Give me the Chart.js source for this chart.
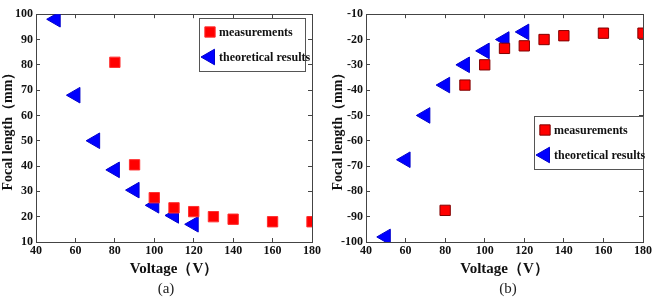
<!DOCTYPE html>
<html lang="en">
<head>
    <meta charset="UTF-8">
    <title>Focal length vs voltage</title>
    <script src="https://cdn.jsdelivr.net/npm/chart.js"></script>
    <style>
        body { margin: 0; background: #fff; }
        .wrap { position: relative; width: 658px; height: 298px; }
        .panel { position: absolute; top: 0; height: 298px; }
        .cap {
            position: absolute; top: 280px; width: 40px; text-align: center;
            font-family: 'Liberation Serif', 'Times New Roman', serif; font-size: 15px; color: #222;
        }
    </style>
</head>
<body>
<div class="wrap">
    <div class="panel" style="left:0;width:330px"><canvas id="chartA"></canvas></div>
    <div class="panel" style="left:330px;width:328px"><canvas id="chartB"></canvas></div>
    <div class="cap" style="left:146px">(a)</div>
    <div class="cap" style="left:488px">(b)</div>
</div>

<script>
    // data
    const measVoltA = [80, 90, 100, 110, 120, 130, 140, 160, 180];
    const measFocalA = [81, 40.5, 27.5, 23.5, 22, 20, 19, 18, 18];
    const theoVoltA = [50, 60, 70, 80, 90, 100, 110, 120];
    const theoFocalA = [98, 68, 50, 38.5, 30.5, 24.5, 20.5, 17];

    const measVoltB = [80, 90, 100, 110, 120, 130, 140, 160, 180];
    const measFocalB = [-87.5, -38, -30, -23.5, -22.5, -20, -18.5, -17.5, -17.5];
    const theoVoltB = [50, 60, 70, 80, 90, 100, 110, 120];
    const theoFocalB = [-98, -67.5, -50, -38, -30, -24.5, -20, -17];

    const seriesNames = ['measurements', 'theoretical results'];
    const xTitle = 'Voltage（V）';
    const yTitle = 'Focal length（mm）';

    const serif = "'Liberation Serif', 'Times New Roman', serif";
    const axisColor = '#444';

    function toPoints(xs, ys) {
        return xs.map((x, i) => ({ x: x, y: ys[i] }));
    }

    // legend box inside the plot
    const legendPlugin = {
        id: 'innerLegend',
        afterDraw(chart, args, opts) {
            const ctx = chart.ctx;
            ctx.save();
            ctx.fillStyle = '#fff';
            ctx.fillRect(opts.x, opts.y, opts.w, opts.h);
            ctx.strokeStyle = '#555';
            ctx.lineWidth = 1;
            ctx.strokeRect(opts.x + 0.5, opts.y + 0.5, opts.w, opts.h);
            ctx.font = 'bold 12px ' + serif;
            ctx.textBaseline = 'middle';
            chart.data.datasets.forEach((ds, i) => {
                const cy = opts.y + 14 + i * 25;
                ctx.fillStyle = ds.backgroundColor;
                ctx.strokeStyle = ds.borderColor;
                ctx.lineWidth = ds.borderWidth;
                Chart.helpers.drawPoint(ctx, {
                    pointStyle: ds.pointStyle,
                    rotation: ds.rotation || 0,
                    radius: ds.pointRadius,
                    borderWidth: ds.borderWidth
                }, opts.x + 11, cy);
                ctx.fillStyle = '#111';
                ctx.fillText(ds.label, opts.x + 20, cy + 1);
            });
            ctx.restore();
        }
    };

    // tick marks pointing into the plot, no grid lines
    const innerGrid = { display: true, drawOnChartArea: false, drawTicks: true, tickLength: -4, color: axisColor, lineWidth: 1 };
    const frameBorder = { display: true, color: axisColor, width: 1 };
    const tickFont = { family: serif, size: 12, weight: 'bold' };

    function makeChart(id, meas, theo, yMin, yMax, pad, legend, sqBorder) {
        return new Chart(document.getElementById(id), {
            type: 'scatter',
            data: {
                datasets: [
                    {
                        label: seriesNames[0],
                        data: meas,
                        pointStyle: 'rect',
                        pointRadius: 7.3,
                        pointHoverRadius: 7.3,
                        backgroundColor: '#ff0000',
                        borderColor: sqBorder,
                        borderWidth: 1
                    },
                    {
                        label: seriesNames[1],
                        data: theo,
                        pointStyle: 'triangle',
                        rotation: -90,
                        pointRadius: 9,
                        pointHoverRadius: 9,
                        backgroundColor: '#0000ff',
                        borderColor: '#0000cc',
                        borderWidth: 1
                    }
                ]
            },
            options: {
                responsive: false,
                animation: false,
                events: [],
                layout: { padding: pad, autoPadding: false },
                plugins: {
                    legend: { display: false },
                    tooltip: { enabled: false },
                    innerLegend: legend
                },
                scales: {
                    x: {
                        type: 'linear',
                        position: 'bottom',
                        min: 40, max: 180,
                        grid: innerGrid,
                        border: frameBorder,
                        ticks: { stepSize: 20, padding: 6, color: '#111', font: tickFont },
                        title: { display: true, text: xTitle, color: '#111', padding: { top: 0, bottom: 0 }, font: { family: serif, size: 15, weight: 'bold' } },
                        afterFit(s) { s.height = 36; }
                    },
                    x2: {
                        type: 'linear',
                        axis: 'x',
                        position: 'top',
                        min: 40, max: 180,
                        grid: innerGrid,
                        border: frameBorder,
                        ticks: { stepSize: 20, display: false },
                        afterFit(s) { s.height = 0; }
                    },
                    y: {
                        type: 'linear',
                        position: 'left',
                        min: yMin, max: yMax,
                        grid: innerGrid,
                        border: frameBorder,
                        ticks: { stepSize: 10, padding: 7, color: '#111', font: tickFont },
                        title: { display: true, text: yTitle, color: '#111', padding: { top: 0, bottom: 0 }, font: { family: serif, size: 14, weight: 'bold' } },
                        afterFit(s) { s.width = 36; }
                    },
                    y2: {
                        type: 'linear',
                        axis: 'y',
                        position: 'right',
                        min: yMin, max: yMax,
                        grid: innerGrid,
                        border: frameBorder,
                        ticks: { stepSize: 10, display: false },
                        afterFit(s) { s.width = 0; }
                    }
                }
            },
            plugins: [legendPlugin]
        });
    }

    function sizeCanvas(id, w, h) {
        const c = document.getElementById(id);
        c.width = w; c.height = h;
        c.style.width = w + 'px'; c.style.height = h + 'px';
    }
    sizeCanvas('chartA', 330, 298);
    sizeCanvas('chartB', 328, 298);

    makeChart('chartA', toPoints(measVoltA, measFocalA), toPoints(theoVoltA, theoFocalA), 10, 100,
        { left: 0, right: 18, top: 5, bottom: 20 },
        { x: 199, y: 18, w: 106, h: 53 }, '#ff3030');
    makeChart('chartB', toPoints(measVoltB, measFocalB), toPoints(theoVoltB, theoFocalB), -100, -10,
        { left: 0, right: 9, top: -1, bottom: 20 },
        { x: 204, y: 116, w: 109, h: 53 }, '#800000');
</script>
</body>
</html>
